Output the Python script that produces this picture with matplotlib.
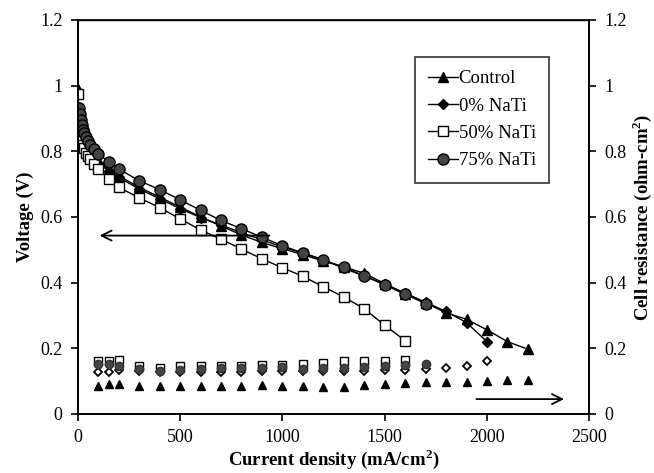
import matplotlib
matplotlib.use("Agg")
import matplotlib.pyplot as plt

plt.rcParams["font.family"] = ["Liberation Serif", "DejaVu Serif"]

# voltage curves (left axis)
x_ctrl = [0, 5, 10, 15, 20, 25, 30, 40, 50, 60, 80, 100, 150, 200, 300, 400, 500, 600,
          700, 800, 900, 1000, 1100, 1200, 1300, 1400, 1500, 1600, 1700, 1800, 1900,
          2000, 2100, 2200]
v_ctrl = [0.99, 0.93, 0.89, 0.87, 0.855, 0.845, 0.835, 0.82, 0.81, 0.80, 0.785, 0.77,
          0.745, 0.725, 0.69, 0.66, 0.63, 0.60, 0.572, 0.545, 0.522, 0.503, 0.485,
          0.465, 0.448, 0.428, 0.397, 0.366, 0.338, 0.308, 0.288, 0.256, 0.22, 0.197]

x_0 = x_ctrl[:32]
v_0 = [0.98, 0.92, 0.885, 0.865, 0.85, 0.84, 0.83, 0.815, 0.805, 0.795, 0.78, 0.765,
       0.74, 0.72, 0.685, 0.655, 0.625, 0.598, 0.575, 0.552, 0.53, 0.508, 0.49, 0.47,
       0.443, 0.42, 0.395, 0.368, 0.34, 0.312, 0.278, 0.22]

x_50 = x_ctrl[:28]
v_50 = [0.975, 0.90, 0.865, 0.845, 0.83, 0.82, 0.81, 0.795, 0.785, 0.775, 0.76, 0.745,
        0.716, 0.69, 0.658, 0.628, 0.594, 0.56, 0.532, 0.502, 0.472, 0.445, 0.419,
        0.387, 0.356, 0.32, 0.27, 0.223]

x_75 = x_ctrl[1:29]
v_75 = [0.932, 0.912, 0.896, 0.881, 0.866, 0.856, 0.844, 0.83, 0.82, 0.807, 0.793,
        0.768, 0.746, 0.71, 0.683, 0.652, 0.62, 0.589, 0.564, 0.538, 0.512, 0.49,
        0.468, 0.447, 0.42, 0.393, 0.364, 0.336]

# cell resistance (right axis)
xr = [100, 150, 200, 300, 400, 500, 600, 700, 800, 900, 1000, 1100, 1200, 1300, 1400,
      1500, 1600, 1700, 1800, 1900, 2000, 2100, 2200]
r_ctrl = [0.085, 0.09, 0.09, 0.084, 0.084, 0.084, 0.085, 0.085, 0.086, 0.087, 0.086,
          0.084, 0.083, 0.083, 0.088, 0.091, 0.095, 0.098, 0.098, 0.097, 0.10, 0.104, 0.104]
r_0 = [0.128, 0.128, 0.133, 0.13, 0.128, 0.128, 0.127, 0.128, 0.129, 0.13, 0.13, 0.131,
       0.131, 0.131, 0.132, 0.134, 0.134, 0.137, 0.141, 0.147, 0.161]
r_50 = [0.16, 0.162, 0.163, 0.145, 0.14, 0.146, 0.146, 0.146, 0.147, 0.148, 0.149,
        0.152, 0.155, 0.16, 0.162, 0.162, 0.163]
r_75 = [0.152, 0.152, 0.145, 0.136, 0.132, 0.135, 0.138, 0.14, 0.141, 0.14, 0.142,
        0.138, 0.14, 0.14, 0.142, 0.145, 0.148, 0.152]

labels = ["Control", "0% NaTi", "50% NaTi", "75% NaTi"]

fig = plt.figure(figsize=(6.54, 4.73), dpi=100)
ax = fig.add_axes([0.119, 0.125, 0.782, 0.833])
ax2 = ax.twinx()

common = dict(color="black", linewidth=1.0, markeredgecolor="black", markeredgewidth=1.0)
l1, = ax.plot(x_ctrl, v_ctrl, marker="^", markersize=7.5, markerfacecolor="black", label=labels[0], **common)
l2, = ax.plot(x_0, v_0, marker="D", markersize=5.5, markerfacecolor="black", label=labels[1], **common)
l3, = ax.plot(x_50, v_50, marker="s", markersize=7, markerfacecolor="white", label=labels[2], **common)
l4, = ax.plot(x_75, v_75, marker="o", markersize=8, markerfacecolor="#444444", label=labels[3], **common)

ax2.plot(xr[:len(r_ctrl)], r_ctrl, "^", color="black", markersize=6, linestyle="none")
ax2.plot(xr[:len(r_0)], r_0, "D", markerfacecolor="white", markeredgecolor="black",
         markeredgewidth=1.3, markersize=4.5, linestyle="none")
ax2.plot(xr[:len(r_50)], r_50, "s", markerfacecolor="white", markeredgecolor="black",
         markeredgewidth=1.0, markersize=6, linestyle="none")
ax2.plot(xr[:len(r_75)], r_75, "o", markerfacecolor="#444444", markeredgecolor="#333333",
         markersize=6, linestyle="none")

ax.set_xlim(0, 2500)
ax.set_ylim(0, 1.2)
ax2.set_ylim(0, 1.2)
ax.set_xticks([0, 500, 1000, 1500, 2000, 2500])
ax.set_yticks([0, 0.2, 0.4, 0.6, 0.8, 1.0, 1.2])
ax2.set_yticks([0, 0.2, 0.4, 0.6, 0.8, 1.0, 1.2])
ax.set_yticklabels(["0", "0.2", "0.4", "0.6", "0.8", "1", "1.2"])
ax2.set_yticklabels(["0", "0.2", "0.4", "0.6", "0.8", "1", "1.2"])

for a in (ax, ax2):
    a.tick_params(direction="out", length=5, width=1.2, labelsize=13, pad=6)
    for s in a.spines.values():
        s.set_linewidth(1.2)
ax.spines["top"].set_linewidth(1.0)

ax.set_xlabel("Current density (mA/cm$^\\mathregular{2}$)", fontsize=13.5, fontweight="bold", labelpad=1)
ax.set_ylabel("Voltage (V)", fontsize=13.5, fontweight="bold", labelpad=4)
ax2.set_ylabel("Cell resistance (ohm-cm$^\\mathregular{2}$)", fontsize=13.5, fontweight="bold",
               rotation=90, labelpad=2)

ax.annotate("", xy=(93, 0.543), xytext=(950, 0.543),
            arrowprops=dict(arrowstyle="->", color="black", lw=1.3, mutation_scale=18))
ax.annotate("", xy=(2390, 0.045), xytext=(1935, 0.045),
            arrowprops=dict(arrowstyle="->", color="black", lw=1.3, mutation_scale=18))

leg = ax.legend(handles=[l1, l2, l3, l4], loc="upper left", bbox_to_anchor=(0.64, 0.93),
                fontsize=13.5, frameon=True, fancybox=False, edgecolor="black",
                handlelength=1.6, handletextpad=0.05, borderpad=0.7, labelspacing=0.55,
                markerscale=1.0)
leg.get_frame().set_linewidth(1.2)

plt.savefig("out.png", dpi=100)
